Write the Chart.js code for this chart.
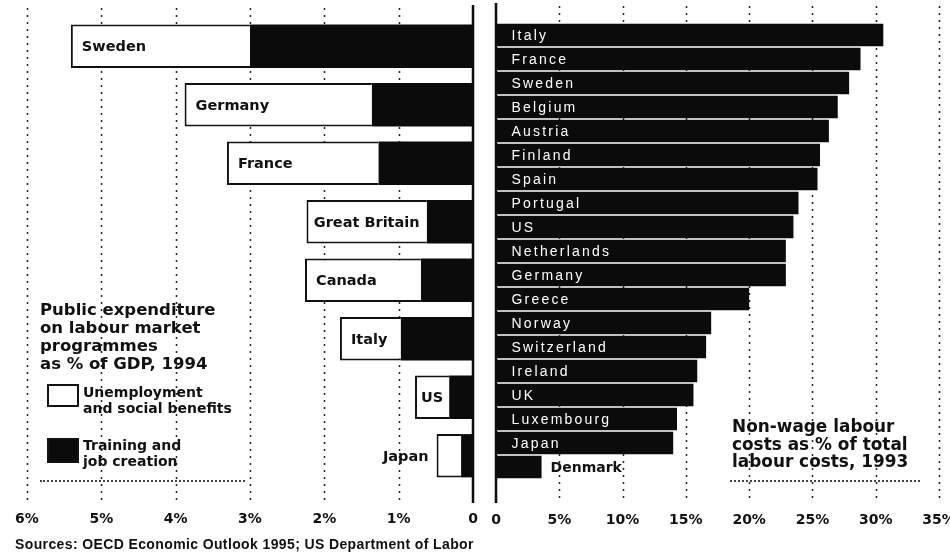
<!DOCTYPE html>
<html>
<head>
<meta charset="utf-8">
<script src="https://cdn.jsdelivr.net/npm/chart.js@4/dist/chart.umd.min.js"></script>
<style>
  html, body { margin: 0; padding: 0; background: #fff; width: 950px; height: 557px; overflow: hidden; }
  #leftBox  { position: absolute; left: 0;     top: 0; width: 490px; height: 557px; }
  #rightBox { position: absolute; left: 485px; top: 0; width: 480px; height: 557px; }
  .note { position: absolute; font-family: "DejaVu Sans", sans-serif; font-weight: bold; color: #111; white-space: nowrap; }
  .title { font-size: 16.5px; line-height: 18px; }
  .key { font-size: 14px; line-height: 16px; }
  .swatch { position: absolute; box-sizing: border-box; border: 2px solid #111; }
  .dots { position: absolute; height: 0; border-top: 2px dotted #444; }
  #source { position: absolute; left: 15px; top: 536px; font-family: "Liberation Sans", Arial, sans-serif; font-weight: bold; font-size: 14px; color: #111; white-space: nowrap; letter-spacing: 0.38px; }
</style>
</head>
<body>
<div id="leftBox"><canvas id="leftChart"></canvas></div>
<div id="rightBox"><canvas id="rightChart"></canvas></div>

<div class="note title" style="left:40px; top:301px;">Public expenditure<br>on labour market<br>programmes<br>as % of GDP, 1994</div>
<div class="swatch" style="left:47px; top:384px; width:32px; height:23px; background:#fff;"></div>
<div class="note key" style="left:83px; top:384px;">Unemployment<br>and social benefits</div>
<div class="swatch" style="left:47px; top:438px; width:32px; height:25px; background:#0b0b0b;"></div>
<div class="note key" style="left:83px; top:437px;">Training and<br>job creation</div>
<div class="dots" style="left:40px; top:480px; width:205px;"></div>

<div class="note title" style="left:732px; top:418px; font-size:16.9px; line-height:17.5px;">Non-wage labour<br>costs as % of total<br>labour costs, 1993</div>
<div class="dots" style="left:730px; top:480px; width:190px;"></div>

<div id="source">Sources: OECD Economic Outlook 1995; US Department of Labor</div>

<script>
// Public expenditure on labour market programmes, % of GDP, 1994
const programmeCountries = ['Sweden', 'Germany', 'France', 'Great Britain', 'Canada', 'Italy', 'US', 'Japan'];
const trainingJobCreation = [3.0, 1.36, 1.27, 0.62, 0.70, 0.97, 0.32, 0.16];
const unemploymentBenefits = [2.41, 2.52, 2.04, 1.62, 1.56, 0.82, 0.46, 0.33];
const leftTickLabels = ['0', '1%', '2%', '3%', '4%', '5%', '6%'];

// Non-wage labour costs, % of total labour costs, 1993
const costCountries = ['Italy', 'France', 'Sweden', 'Belgium', 'Austria', 'Finland', 'Spain', 'Portugal', 'US',
  'Netherlands', 'Germany', 'Greece', 'Norway', 'Switzerland', 'Ireland', 'UK', 'Luxembourg', 'Japan', 'Denmark'];
const nonWageCosts = [30.6, 28.8, 27.9, 27.0, 26.3, 25.6, 25.4, 23.9, 23.5, 22.9, 22.9, 20.0, 17.0, 16.6, 15.9, 15.6, 14.3, 14.0, 3.6];
const rightTickLabels = ['0', '5%', '10%', '15%', '20%', '25%', '30%', '35%'];

const INK = '#0b0b0b';
const HEAVY = '"DejaVu Sans", sans-serif';
const PLAIN = '"Liberation Sans", Arial, sans-serif';

// Dotted vertical grid and a solid zero line that run past the plot area
const gridPlugin = {
  id: 'longGrid',
  beforeDatasetsDraw(chart, args, opts) {
    const { ctx, scales: { x } } = chart;
    ctx.save();
    ctx.setLineDash([2, 5]);
    ctx.lineWidth = 1.5;
    ctx.strokeStyle = '#222';
    x.ticks.forEach(t => {
      if (t.value === 0) return;
      const px = Math.round(x.getPixelForValue(t.value)) + 0.5;
      ctx.beginPath();
      ctx.moveTo(px, opts.top);
      ctx.lineTo(px, opts.bottom);
      ctx.stroke();
    });
    ctx.restore();
  },
  afterDatasetsDraw(chart, args, opts) {
    const { ctx, scales: { x } } = chart;
    const px = x.getPixelForValue(0);
    ctx.save();
    ctx.lineWidth = 2.5;
    ctx.strokeStyle = INK;
    ctx.beginPath();
    ctx.moveTo(px, opts.top - 3);
    ctx.lineTo(px, opts.bottom);
    ctx.stroke();
    ctx.restore();
  }
};

// Country names on the programme bars: inside the white part, or beside it when it is too short
const programmeLabels = {
  id: 'programmeLabels',
  afterDatasetsDraw(chart) {
    const { ctx } = chart;
    const meta = chart.getDatasetMeta(1);
    ctx.save();
    ctx.font = 'bold 14.5px ' + HEAVY;
    ctx.fillStyle = '#111';
    ctx.textBaseline = 'middle';
    meta.data.forEach((el, i) => {
      const name = chart.data.labels[i];
      const outer = Math.min(el.x, el.base);
      const inner = Math.max(el.x, el.base);
      const w = ctx.measureText(name).width;
      const room = inner - outer;
      if (room >= w + 20) {
        ctx.textAlign = 'left';
        ctx.fillText(name, outer + 11, el.y + 1);
      } else if (room >= w + 6) {
        ctx.textAlign = 'center';
        ctx.fillText(name, (outer + inner) / 2, el.y + 1);
      } else {
        ctx.textAlign = 'right';
        ctx.fillText(name, outer - 8, el.y + 1);
      }
    });
    ctx.restore();
  }
};

// Country names on the cost bars: white inside, bold black past the end of a short bar
const costLabels = {
  id: 'costLabels',
  afterDatasetsDraw(chart) {
    const { ctx } = chart;
    const meta = chart.getDatasetMeta(0);
    ctx.save();
    ctx.textBaseline = 'middle';
    ctx.textAlign = 'left';
    meta.data.forEach((el, i) => {
      const name = chart.data.labels[i];
      ctx.font = '14px ' + PLAIN;
      ctx.letterSpacing = '2.2px';
      const w = ctx.measureText(name).width;
      if (el.x - el.base >= w + 24) {
        ctx.fillStyle = '#fff';
        ctx.fillText(name, el.base + 15, el.y + 1);
      } else {
        ctx.letterSpacing = '0px';
        ctx.font = 'bold 14px ' + HEAVY;
        ctx.fillStyle = '#111';
        ctx.fillText(name, el.x + 9, el.y + 1);
      }
    });
    ctx.restore();
  }
};

const tickFont = { family: HEAVY, weight: 'bold', size: 14 };

new Chart(document.getElementById('leftChart'), {
  type: 'bar',
  data: {
    labels: programmeCountries,
    datasets: [
      { label: 'Training and job creation', data: trainingJobCreation,
        backgroundColor: INK, borderColor: INK, borderWidth: 0 },
      { label: 'Unemployment and social benefits', data: unemploymentBenefits,
        backgroundColor: '#fff', borderColor: '#111', borderWidth: 2, borderSkipped: 'start' }
    ]
  },
  options: {
    indexAxis: 'y',
    responsive: true,
    maintainAspectRatio: false,
    animation: false,
    barPercentage: 0.74,
    categoryPercentage: 1,
    layout: { padding: { left: 27, right: 17, top: 17, bottom: 0 } },
    scales: {
      x: {
        type: 'linear', reverse: true, min: 0, max: 6, stacked: true,
        grid: { display: true, color: 'rgba(0,0,0,0)', drawOnChartArea: false, drawTicks: true, tickLength: 26 },
        border: { display: false },
        ticks: { stepSize: 1, color: '#111', font: tickFont, padding: 0, maxRotation: 0,
                 callback: v => leftTickLabels[Math.round(v)] },
        afterFit(s) { s.height = 72; }
      },
      y: { type: 'category', stacked: true, display: false }
    },
    plugins: {
      legend: { display: false },
      tooltip: { enabled: false },
      longGrid: { top: 8, bottom: 503 }
    }
  },
  plugins: [gridPlugin, programmeLabels]
});

new Chart(document.getElementById('rightChart'), {
  type: 'bar',
  data: {
    labels: costCountries,
    datasets: [
      { label: 'Non-wage labour costs', data: nonWageCosts,
        backgroundColor: INK, borderWidth: 0 }
    ]
  },
  options: {
    indexAxis: 'y',
    responsive: true,
    maintainAspectRatio: false,
    animation: false,
    barPercentage: 0.93,
    categoryPercentage: 1,
    layout: { padding: { left: 11, right: 26, top: 23, bottom: 0 } },
    scales: {
      x: {
        type: 'linear', min: 0, max: 35,
        grid: { display: true, color: 'rgba(0,0,0,0)', drawOnChartArea: false, drawTicks: true, tickLength: 33 },
        border: { display: false },
        ticks: { stepSize: 5, color: '#111', font: tickFont, padding: 0, maxRotation: 0,
                 callback: v => rightTickLabels[Math.round(v / 5)] },
        afterFit(s) { s.height = 78; }
      },
      y: { type: 'category', display: false }
    },
    plugins: {
      legend: { display: false },
      tooltip: { enabled: false },
      longGrid: { top: 6, bottom: 503 }
    }
  },
  plugins: [gridPlugin, costLabels]
});
</script>
</body>
</html>
